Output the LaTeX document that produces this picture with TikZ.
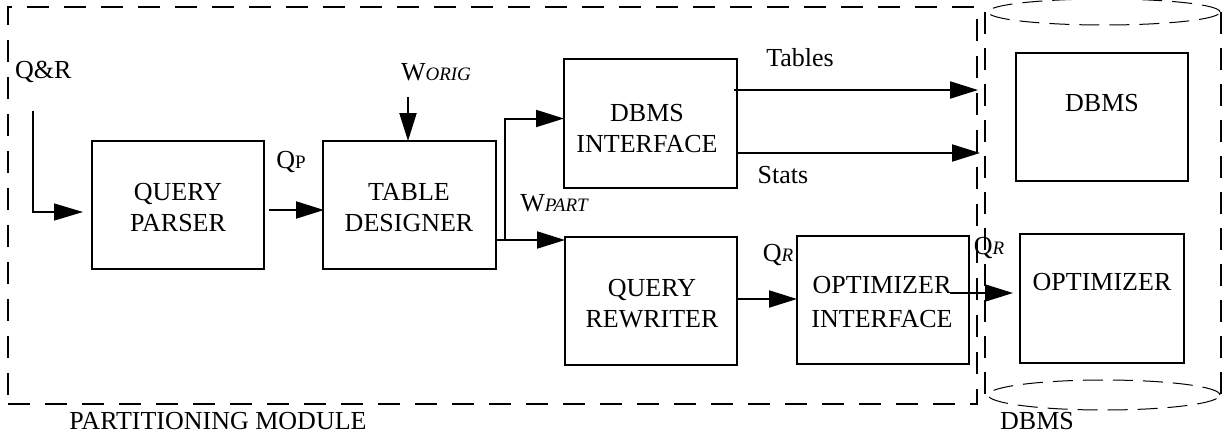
\documentclass[tikz,border=0pt]{standalone}
\usepackage{fontspec}
\setmainfont{Liberation Serif}
\usetikzlibrary{arrows.meta,calc}
\newcommand\lblsub[1]{{\fontsize{19}{19}\selectfont #1}}
\begin{document}
\begin{tikzpicture}[x=1pt,y=-1pt,
  every node/.style={inner sep=0pt,outer sep=0pt,font=\fontsize{26}{31}\selectfont},
  box/.style={draw,line width=2.2pt,minimum height=128pt},
  txt/.style={align=center},
  arr/.style={line width=2pt,-{Triangle[length=28pt,width=17pt]}},
  thinarr/.style={line width=1.2pt,-{Triangle[length=29pt,width=17pt]}},
  modline/.style={draw,line width=2.2pt,dash pattern=on 22pt off 15pt},
  cylside/.style={line width=2.2pt,dash pattern=on 22pt off 14pt},
  cylell/.style={line width=1pt,dash pattern=on 20pt off 10pt}
]
\useasboundingbox (0,0) rectangle (1225,437);

% module boundary
\node[modline,minimum width=969pt,minimum height=397pt] (pm) at (492.5,205.5) {};

% cylinder (DBMS)
\draw[cylside] (985,12) -- (985,400);
\draw[cylside] (1221,12) -- (1221,400);
\draw[cylell] (1104,12) ellipse [x radius=116pt, y radius=13pt];
\draw[cylell] (1104,395) ellipse [x radius=116pt, y radius=15pt];

% boxes
\node[box,minimum width=172pt] (qp) at (178,205) {};
\node[box,minimum width=173pt] (td) at (409.5,205) {};
\node[box,minimum width=173pt,minimum height=129pt] (di) at (650.5,123.5) {};
\node[box,minimum width=172pt] (qr) at (651,301) {};
\node[box,minimum width=172pt] (oi) at (883,300) {};
\node[box,minimum width=172pt] (db) at (1102,117) {};
\node[box,minimum width=164pt,minimum height=129pt] (op) at (1102,298.5) {};

% box texts
\node[txt] (qpt) at (178,208) {QUERY\\PARSER};
\node[txt] (tdt) at (409,208) {TABLE\\DESIGNER};
\node[txt] (dit) at (647,129) {DBMS\\INTERFACE};
\node[txt] (qrt) at (652,303.5) {QUERY\\REWRITER};
\node[txt,font=\fontsize{26}{34}\selectfont] (oit) at (882,302) {OPTIMIZER\\INTERFACE};
\node (dbt) at (1102,103) {DBMS};
\node (opt) at (1102,282) {OPTIMIZER};

% labels
\node[anchor=west] (lqr) at (15,72) {Q\&R};
\node (lqp) at (291,162) {Q\lblsub{P}};
\node (lworig) at (436,72) {W\lblsub{\itshape ORIG}};
\node (lwpart) at (554,203) {W\lblsub{\itshape PART}};
\node (ltab) at (800,58) {Tables};
\node (lsta) at (783,175) {Stats};
\node (lqr1) at (778,255) {Q\lblsub{\itshape R}};
\node (lqr2) at (989,248) {Q\lblsub{\itshape R}};
\node (lpm) at (218,421) {PARTITIONING MODULE};
\node (ldb) at (1037,421) {DBMS};

% connectors
\coordinate (qrin) at (33,111);
\coordinate (qrend) at (83,212);
\draw[thinarr] (qrin) |- (qrend);

\draw[arr] ($(qp.east)+(5,5)$) -- ($(td.west)+(1,5)$);

\coordinate (worig) at (408,97);
\draw[arr] (worig) -- (worig |- td.north);

\coordinate (split) at (505,240);
\draw[arr] (td.east |- split) -- (split) |- ($(di.west)+(0,-5)$);
\draw[arr] (split) -- (qr.west |- split);

\coordinate (tabend) at (978,90);
\draw[arr] ($(di.east |- tabend)+(-3,0)$) -- (tabend);
\coordinate (staend) at (980,153);
\draw[arr] (di.east |- staend) -- (staend);

\coordinate (qrrow) at (0,299);
\draw[arr] (qr.east |- qrrow) -- (oi.west |- qrrow);

\coordinate (opin) at (1013,293);
\draw[arr] ($(oi.east)+(-19,-7)$) -- (opin);
\end{tikzpicture}
\end{document}
